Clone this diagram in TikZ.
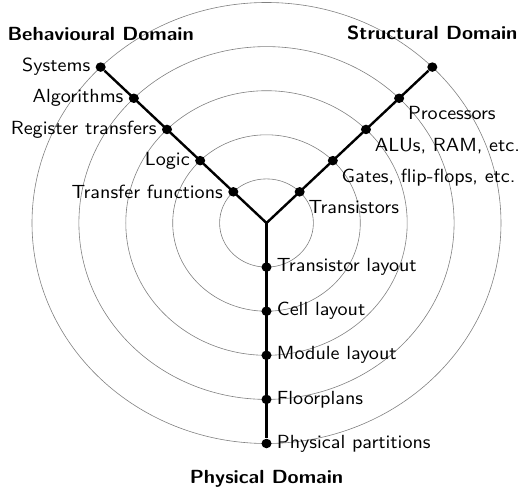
\documentclass[tikz,border=0pt]{standalone}
\usepackage{tikz}
\usetikzlibrary{positioning}

\begin{document}
\begin{tikzpicture}[x=46.9pt, y=44.1pt,
  every node/.style={font=\sffamily, xscale=2.01, yscale=1.9},
  every label/.style={inner sep=2.3pt},
  dot/.style={circle, fill, inner sep=0pt, minimum size=5pt},
  domtitle/.style={font=\sffamily\bfseries},
  axis/.style={line width=2.4pt},
  ring/.style={draw=gray, line width=0.6pt}]
\useasboundingbox (-266.5pt,-265pt) rectangle (256.5pt,223pt);
\coordinate (o) at (0,0);
% rings
\foreach \r in {1,...,5} \draw[ring] (o) circle (\r);
% behavioural domain
\node[dot, label=left:Transfer functions] (b1) at (135:1) {};
\node[dot, label=left:Logic] (b2) at (135:2) {};
\node[dot, label=left:Register transfers] (b3) at (135:3) {};
\node[dot, label=left:Algorithms] (b4) at (135:4) {};
\node[dot, label=left:Systems] (b5) at (135:5) {};
% structural domain
\node[dot, label={below right:Transistors}] (s1) at (45:1) {};
\node[dot, label={below right:Gates, flip-flops, etc.}] (s2) at (45:2) {};
\node[dot, label={below right:ALUs, RAM, etc.}] (s3) at (45:3) {};
\node[dot, label={below right:Processors}] (s4) at (45:4) {};
\node[dot] (s5) at (45:5) {};
% physical domain
\node[dot, label=right:Transistor layout] (p1) at (270:1) {};
\node[dot, label=right:Cell layout] (p2) at (270:2) {};
\node[dot, label=right:Module layout] (p3) at (270:3) {};
\node[dot, label=right:Floorplans] (p4) at (270:4) {};
\node[dot, label=right:Physical partitions] (p5) at (270:5) {};
\draw[axis] (b5) -- (o) -- (s5);
\draw[axis] (o) -- (p5);
\node[domtitle, above=15pt of b5] (bdom) {Behavioural Domain};
\node[domtitle, above=15pt of s5] (sdom) {Structural Domain};
\node[domtitle, below=15pt of p5] (pdom) {Physical Domain};
\end{tikzpicture}
\end{document}
